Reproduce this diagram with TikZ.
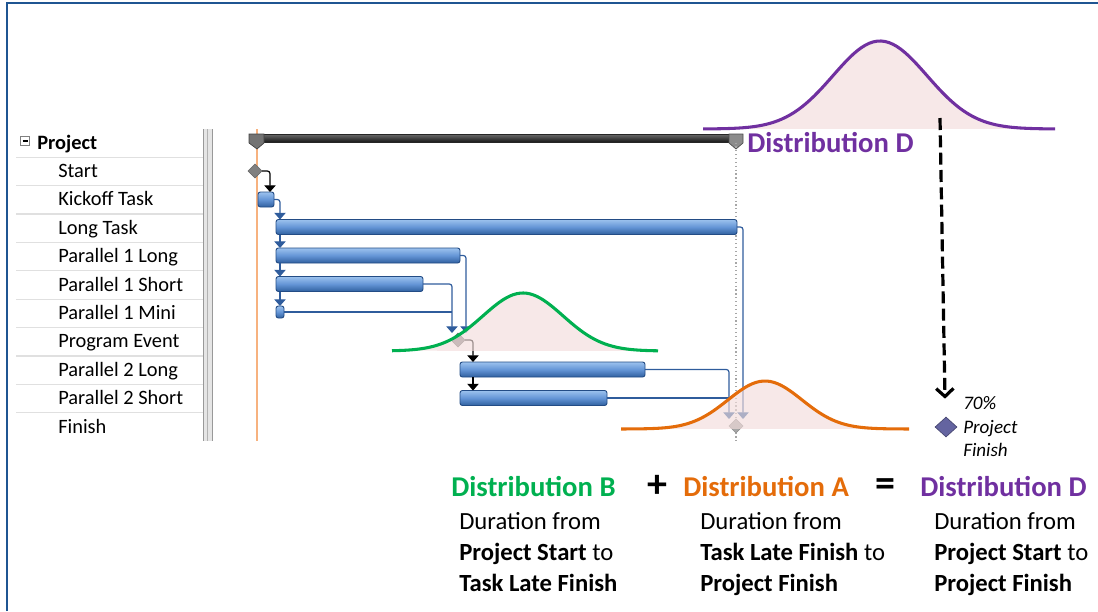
\documentclass[tikz,border=0pt]{standalone}
\usepackage{fontspec}
\setmainfont{Carlito}
\usetikzlibrary{arrows.meta,calc,shapes.geometric}
\definecolor{dpurple}{HTML}{7030A0}
\definecolor{dgreen}{HTML}{00B050}
\definecolor{dorange}{HTML}{E46C0A}
\definecolor{pinkfill}{HTML}{F2DCDB}
\definecolor{barTop}{HTML}{9CC2EE}
\definecolor{barMid}{HTML}{6495D6}
\definecolor{barBot}{HTML}{30609F}
\definecolor{barEdge}{HTML}{234C85}
\definecolor{linkc}{HTML}{2F5C9C}
\definecolor{frameblue}{HTML}{1F5592}
\definecolor{todayline}{HTML}{F7B27F}
\definecolor{pdiamfill}{HTML}{6464A0}
\newcommand\pu{0.75pt}
\begin{document}
\begin{tikzpicture}[x=0.75pt,y=-0.75pt,
  bar/.style={draw=barEdge, line width=0.7pt, top color=barTop, bottom color=barBot, middle color=barMid,
    rounded corners=1.8pt, minimum height=15*\pu, inner sep=0pt, outer sep=0pt, anchor=west},
  ms/.style={diamond, draw=black!60, fill=black!50, line width=0.5pt, inner sep=0pt, outer sep=0pt,
    minimum width=14*\pu, minimum height=14*\pu},
  lbl/.style={anchor=base west, inner sep=0pt, font=\fontsize{15.3}{17}\selectfont},
  link/.style={draw=linkc, line width=0.9pt, rounded corners=2pt},
  blarrow/.style={-{Triangle[width=8.5pt,length=5pt]}},
  distlbl/.style={anchor=base west, inner sep=0pt, font=\bfseries\fontsize{21.5}{24}\selectfont},
  desc/.style={anchor=base west, inner sep=0pt, font=\fontsize{18.5}{22}\selectfont},
  small/.style={anchor=base west, inner sep=0pt, font=\itshape\fontsize{14.3}{16}\selectfont},
  curve/.style={line width=2.3pt, line join=round},
  pfill/.style={fill=pinkfill, fill opacity=0.65}
]
\useasboundingbox (0,0) rectangle (1098,611);
% frame
\draw[frameblue, line width=1.9pt] (7,611) -- (7,3) -- (1098,3);

% table
\foreach \k in {0,...,9} \draw[black!12, line width=0.9pt] (16,{157.2+28.4*\k}) -- (204,{157.2+28.4*\k});
\fill[black!10] (203,129) rectangle (213,441);
\draw[black!40, line width=0.6pt] (203,129) -- (203,441);
\draw[black!30, line width=0.6pt] (207,129) -- (207,441);
\draw[black!40, line width=0.6pt] (212.5,129) -- (212.5,441);
\draw[black!50, line width=0.5pt] (20.5,136.5) rectangle (29.5,145.5);
\draw[black, line width=0.8pt] (22.5,141) -- (27.5,141);
\node[lbl, font=\bfseries\fontsize{15.3}{17}\selectfont] (tproj) at (37,149) {Project};
\node[lbl] (tstart) at (58,177.4) {Start};
\node[lbl] (tkick) at (58,205.8) {Kickoff Task};
\node[lbl] (tlong) at (58,234.2) {Long Task};
\node[lbl] (tp1l) at (58,262.6) {Parallel 1 Long};
\node[lbl] (tp1s) at (58,291) {Parallel 1 Short};
\node[lbl] (tp1m) at (58,319.4) {Parallel 1 Mini};
\node[lbl] (tpe) at (58,347.8) {Program Event};
\node[lbl] (tp2l) at (58,376.2) {Parallel 2 Long};
\node[lbl] (tp2s) at (58,404.6) {Parallel 2 Short};
\node[lbl] (tfin) at (58,433) {Finish};

% today line
\draw[todayline, line width=1.3pt] (257,129) -- (257,441);

% summary bar
\node[draw=black!85, line width=0.5pt, top color=black!60, bottom color=black!92, inner sep=0pt, outer sep=0pt,
  minimum width=492*\pu, minimum height=8*\pu, anchor=west] (proj) at (250,138.5) {};
\filldraw[fill=black!55, draw=black!75, line width=0.5pt] (249,134) -- (264,134) -- (264,143) -- (257,149) -- (249,143) -- cycle;
\filldraw[fill=black!45, draw=black!70, line width=0.5pt] (729,134) -- (743,134) -- (743,143) -- (736,149) -- (729,143) -- cycle;

% milestones
\node[ms] (start) at (255,171) {};
\node[ms] (pe) at (458,340) {};
\node[ms, fill=black!35, draw=black!45] (fin) at (736,426) {};

% dotted finish line
\draw[black!35, dotted, line width=0.9pt] (fin.center |- proj.south) -- ($(fin.center)+(0,16)$);

% bars
\node[bar, minimum width=16*\pu] (kick) at (258,199.5) {};
\node[bar, minimum width=461*\pu] (long) at (276,227) {};
\node[bar, minimum width=184*\pu] (p1l) at (276,255.5) {};
\node[bar, minimum width=147*\pu] (p1s) at (276,284) {};
\node[bar, minimum width=8*\pu, minimum height=12*\pu] (mini) at (276,312) {};
\node[bar, minimum width=185*\pu] (p2l) at (460,369.5) {};
\node[bar, minimum width=147*\pu] (p2s) at (460,398) {};

% links
\draw[link, draw=black, blarrow] (start.east) -| ($(kick.north east)+(-4,0)$);
\draw[link, blarrow] (kick.east) -| ($(long.north west)+(4,0)$);
\draw[link, blarrow] ($(long.south west)+(4,0)$) -- ($(p1l.north west)+(4,0)$);
\draw[link, blarrow] ($(p1l.south west)+(4,0)$) -- ($(p1s.north west)+(4,0)$);
\draw[link, blarrow] ($(p1s.south west)+(4,0)$) -- ($(mini.north west)+(4,0)$);
\coordinate (pinA) at ($(pe.north)+(-6,0)$);
\coordinate (pinB) at ($(pe.north)+(8,0)$);
\draw[link, blarrow] (p1l.east) -| (pinB);
\draw[link, blarrow] (p1s.east) -| (pinA);
\draw[link] (mini.east) -- (mini.east -| pinA);
\draw[link, draw=black, blarrow] (pe.east) -| ($(p2l.north west)+(13,0)$);
\draw[link, draw=black, blarrow] ($(p2l.south west)+(13,0)$) -- ($(p2s.north west)+(13,0)$);
\coordinate (finA) at ($(fin.north)+(-7,0)$);
\coordinate (finB) at ($(fin.north)+(7,0)$);
\draw[link, blarrow] (p2l.east) -| (finA);
\draw[link] (p2s.east) -- (p2s.east -| finA);
\draw[link, blarrow] (long.east) -| (finB);

% distributions
\fill[pfill] plot[domain=703:1055, samples=90] (\x,{129-88*exp(-((\x-880)/47)^2/2)}) -- cycle;
\draw[curve, dpurple] plot[domain=703:1055, samples=90] (\x,{129-88*exp(-((\x-880)/47)^2/2)});
\fill[pfill] plot[domain=392:658, samples=80] (\x,{351-58*exp(-((\x-523)/40)^2/2)}) -- cycle;
\draw[curve, dgreen] plot[domain=392:658, samples=80] (\x,{351-58*exp(-((\x-523)/40)^2/2)});
\fill[pfill] plot[domain=621:909, samples=80] (\x,{429-48*exp(-((\x-765)/37)^2/2)}) -- cycle;
\draw[curve, dorange] plot[domain=621:909, samples=80] (\x,{429-48*exp(-((\x-765)/37)^2/2)});

% distribution D label at top
\node[distlbl, text=dpurple] (dD) at (747,152) {Distribution D};

% 70% project finish
\node[diamond, fill=pdiamfill, draw=pdiamfill!70!black, line width=0.5pt, inner sep=0pt,
  minimum width=22*\pu, minimum height=20*\pu] (pdiam) at (946,427) {};
\coordinate (dtop) at (940,118);
\draw[line width=2.4pt, dash pattern=on 9pt off 4pt, -{Straight Barb[length=6pt,width=13pt,line width=2.4pt]}]
  (dtop) -- ($(pdiam.north)+(-1,-18)$);
\node[small] (s70) at (963,409) {70\%};
\node[small] (sproj) at (963,433) {Project};
\node[small] (sfin) at (963,456) {Finish};

% bottom equation
\node[distlbl, text=dgreen] (eB) at (451,496) {Distribution B};
\node[anchor=base, inner sep=0pt, font=\bfseries\fontsize{30}{30}\selectfont] (plus) at (657,497) {+};
\node[distlbl, text=dorange] (eA) at (683,496) {Distribution A};
\node[anchor=base, inner sep=0pt, font=\bfseries\fontsize{30}{30}\selectfont] (eq) at (885,496) {=};
\node[distlbl, text=dpurple] (eD) at (920,496) {Distribution D};

\node[desc] (b1) at (459,529) {Duration from};
\node[desc] (b2) at (459,560) {\textbf{Project Start} to};
\node[desc] (b3) at (459,591) {\textbf{Task Late Finish}};
\node[desc] (a1) at (700,529) {Duration from};
\node[desc] (a2) at (700,560) {\textbf{Task Late Finish} to};
\node[desc] (a3) at (700,591) {\textbf{Project Finish}};
\node[desc] (d1) at (934,529) {Duration from};
\node[desc] (d2) at (934,560) {\textbf{Project Start} to};
\node[desc] (d3) at (934,591) {\textbf{Project Finish}};
\end{tikzpicture}
\end{document}
